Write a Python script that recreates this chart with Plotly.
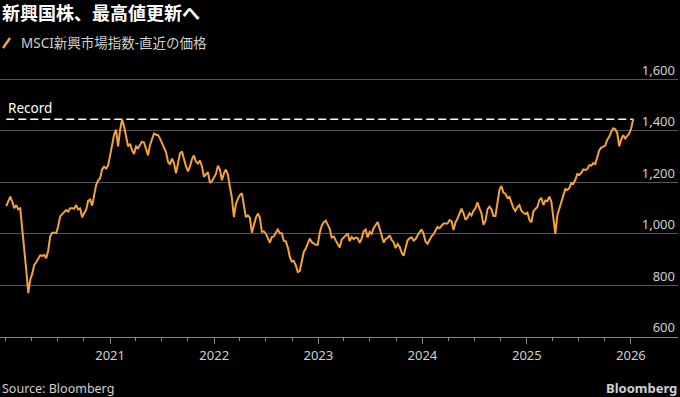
import pandas as pd
import plotly.graph_objects as go

# Weekly closes, starting first Friday of 2020
start_date = "2020-01-03"
values = [
    1108, 1130, 1145, 1125, 1100, 1112, 1095, 1099, 1025, 945,
    860, 770, 822, 845, 880, 890, 905, 917, 915, 918,
    906, 935, 990, 1005, 1005, 1003, 1030, 1068, 1077, 1085,
    1093, 1087, 1100, 1100, 1098, 1112, 1095, 1099, 1065, 1080,
    1093, 1128, 1133, 1110, 1150, 1190, 1207, 1216, 1250, 1261,
    1254, 1265, 1305, 1345, 1385, 1405, 1340, 1403, 1444, 1418,
    1370, 1340, 1350, 1325, 1310, 1340, 1333, 1345, 1358, 1355,
    1330, 1305, 1345, 1368, 1390, 1385, 1383, 1370, 1354, 1338,
    1318, 1280, 1270, 1292, 1275, 1235, 1280, 1312, 1320, 1290,
    1262, 1243, 1262, 1290, 1304, 1280, 1273, 1285, 1262, 1222,
    1230, 1240, 1198, 1205, 1218, 1233, 1265, 1250, 1208, 1235,
    1250, 1230, 1182, 1140, 1065, 1115, 1136, 1151, 1158, 1115,
    1065, 1072, 1063, 1005, 1035, 1062, 1079, 1064, 1008, 1010,
    1001, 985, 966, 988, 990, 1005, 1017, 1003, 1003, 973,
    972, 948, 911, 893, 895, 878, 852, 856, 893, 930,
    943, 960, 982, 968, 962, 958, 958, 1005, 1032, 1045,
    1052, 1037, 1020, 986, 990, 975, 960, 947, 978, 986,
    994, 1002, 972, 988, 980, 986, 984, 965, 982, 1010,
    1017, 986, 1008, 1000, 1022, 1033, 1046, 1021, 990, 967,
    980, 984, 995, 977, 968, 945, 961, 950, 928, 915,
    945, 975, 983, 987, 974, 980, 995, 1008, 1018, 1000,
    970, 962, 980, 991, 999, 1015, 1027, 1022, 1033, 1040,
    1040, 1040, 1054, 1050, 1015, 1045, 1060, 1080, 1098, 1080,
    1055, 1064, 1080, 1072, 1090, 1100, 1123, 1099, 1080, 1035,
    1050, 1095, 1106, 1096, 1070, 1070, 1115, 1170, 1186, 1160,
    1155, 1140, 1144, 1122, 1100, 1089, 1104, 1112, 1090, 1082,
    1078, 1083, 1055, 1045, 1087, 1097, 1105, 1132, 1140, 1112,
    1130, 1127, 1145, 1125, 1060, 1000, 1073, 1099, 1117, 1150,
    1175, 1171, 1178, 1198, 1195, 1210, 1233, 1229, 1237, 1250,
    1248, 1252, 1267, 1265, 1275, 1271, 1302, 1325, 1335, 1338,
    1343, 1366, 1377, 1396, 1410, 1406, 1392, 1340, 1367, 1383,
    1370, 1380, 1390, 1410, 1446,
]
dates = pd.date_range(start_date, periods=len(values), freq="7D")

record_value = 1444.93
record_label = "Record"
series_name = "MSCI新興市場指数-直近の価格"
title_text = "新興国株、最高値更新へ"
source_text = "Source: Bloomberg"
brand_text = "Bloomberg"
y_ticks = [600, 800, 1000, 1200, 1400, 1600]
year_ticks = ["2021-01-01", "2022-01-01", "2023-01-01", "2024-01-01", "2025-01-01", "2026-01-01"]
year_labels = ["2021", "2022", "2023", "2024", "2025", "2026"]

ORANGE = "#f4a23a"
GRID = "#555555"
TXT = "#d0d0d0"
FONT = "Noto Sans, Noto Sans CJK JP, sans-serif"
CJK = "Noto Sans CJK JP, sans-serif"

W, H = 680, 397
ML, MR, MT, MB = 0, 2, 60, 60
PW = W - ML - MR
PH = H - MT - MB

def py(pix):  # pixel row -> paper y
    return 1 - (pix - MT) / PH

def px(pix):  # pixel col -> paper x
    return (pix - ML) / PW

fig = go.Figure()
fig.add_trace(go.Scatter(
    x=[dates[0], dates[-1]], y=[record_value, record_value], mode="lines",
    line=dict(color="white", width=1.6, dash="8px,4px"), hoverinfo="skip", showlegend=False))
fig.add_trace(go.Scatter(
    x=dates, y=values, mode="lines", name=series_name,
    line=dict(color=ORANGE, width=2), showlegend=False))

fig.update_layout(
    width=W, height=H,
    paper_bgcolor="black", plot_bgcolor="black",
    margin=dict(l=ML, r=MR, t=MT, b=MB),
    font=dict(family=FONT, color=TXT, size=13),
    xaxis=dict(
        range=["2019-12-12", "2026-06-15"],
        tickvals=year_ticks, ticktext=year_labels,
        ticks="outside", ticklen=6, tickcolor="#888888", tickwidth=1,
        showgrid=False, showline=True, linecolor="#888888", linewidth=1,
        tickfont=dict(size=13, color=TXT, family=FONT),
        minor=dict(dtick="M3", tick0="2020-01-01", ticks="outside", ticklen=3,
                   tickcolor="#888888", showgrid=False),
        zeroline=False,
    ),
    yaxis=dict(
        range=[600, 1675], side="right",
        tickvals=y_ticks, tickformat=",",
        ticklabelposition="inside top", ticks="",
        showgrid=True, gridcolor=GRID, gridwidth=1,
        tickfont=dict(size=13, color=TXT, family=FONT),
        zeroline=False, showline=False,
    ),
    annotations=[
        dict(text=f"<b>{title_text}</b>", x=px(0), y=py(12), xref="paper", yref="paper",
             xanchor="left", yanchor="middle", showarrow=False,
             font=dict(size=18, color="white", family=CJK)),
        dict(text=series_name, x=px(19), y=py(43), xref="paper", yref="paper",
             xanchor="left", yanchor="middle", showarrow=False,
             font=dict(size=13.5, color=TXT, family=FONT)),
        dict(text=record_label, x=dates[0], y=record_value, xref="x", yref="y",
             xanchor="left", yanchor="bottom", showarrow=False, yshift=0,
             font=dict(size=13.5, color="white", family=FONT)),
        dict(text=source_text, x=px(0), y=py(388), xref="paper", yref="paper",
             xanchor="left", yanchor="middle", showarrow=False,
             font=dict(size=12.5, color=TXT, family=FONT)),
        dict(text=f"<b>{brand_text}</b>", x=px(679), y=py(388), xref="paper", yref="paper",
             xanchor="right", yanchor="middle", showarrow=False,
             font=dict(size=13, color=TXT, family=FONT)),
    ],
    shapes=[
        dict(type="line", xref="paper", yref="paper",
             x0=px(3), y0=py(48), x1=px(10), y1=py(38),
             line=dict(color=ORANGE, width=2.5)),
    ],
)

fig.write_html("out.html", config={"displayModeBar": False},
               post_script="document.body.style.margin='0';document.body.style.overflow='hidden';")
